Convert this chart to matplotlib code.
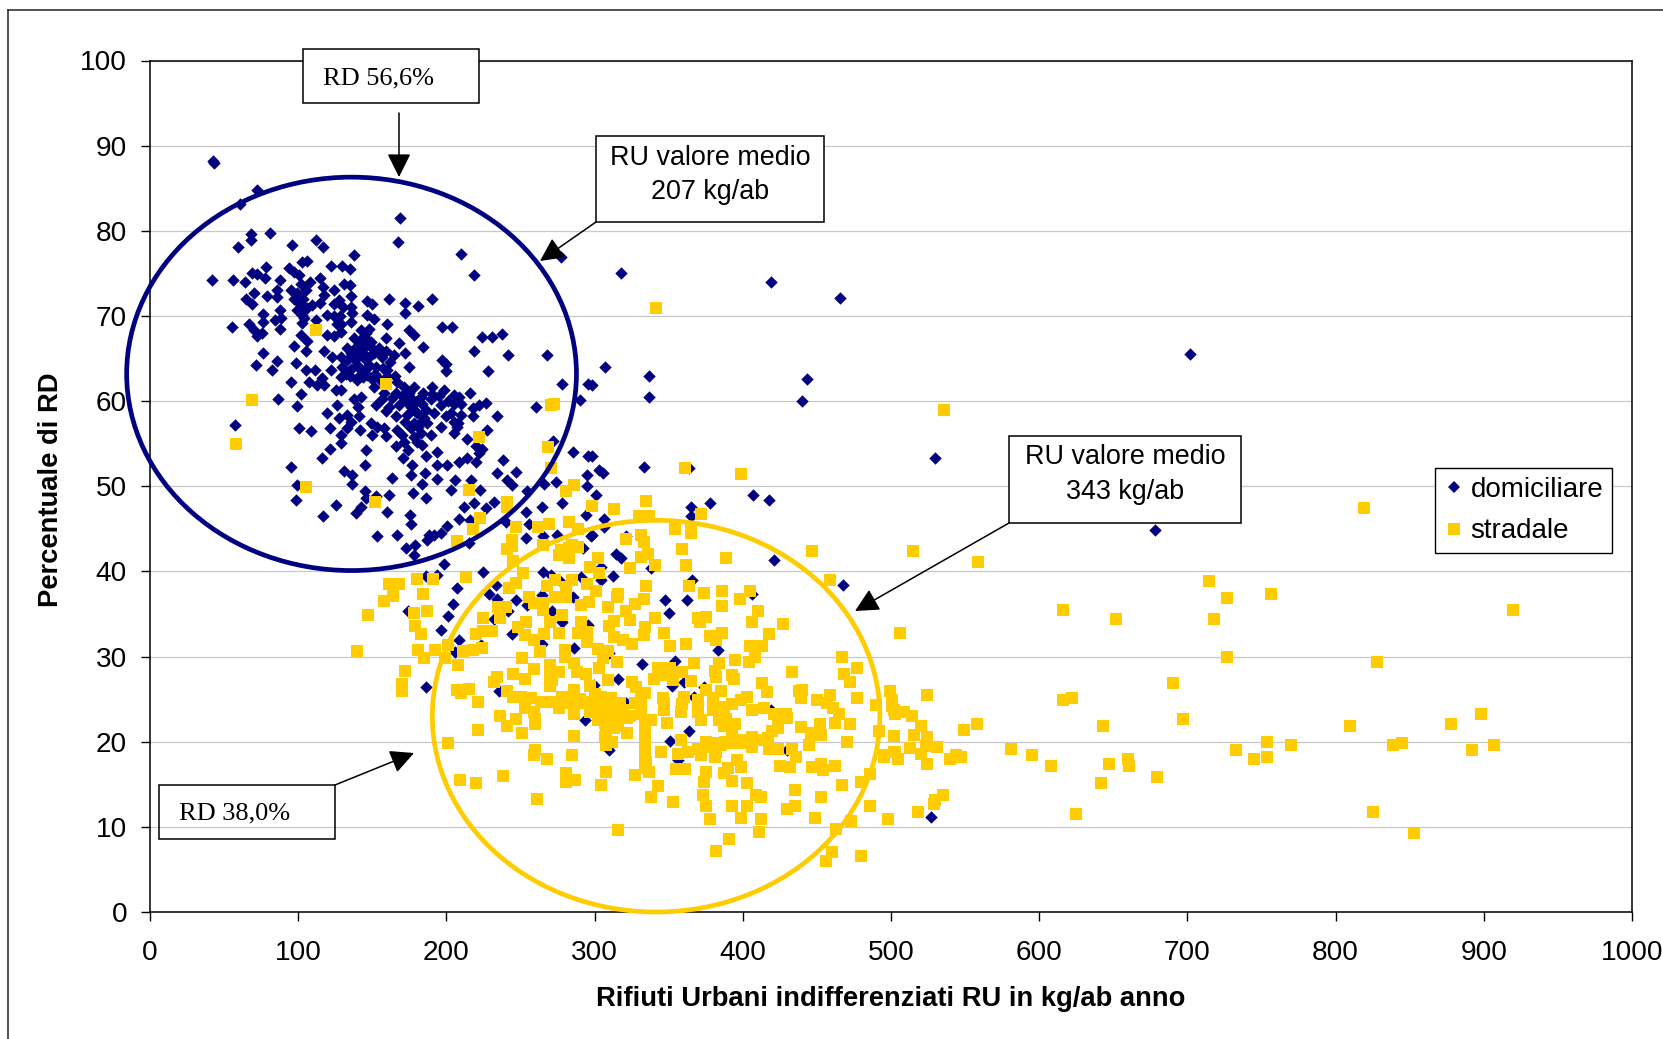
import matplotlib
matplotlib.use('Agg')
import matplotlib.pyplot as plt
from matplotlib.patches import Ellipse, Rectangle, FancyArrowPatch
from matplotlib.lines import Line2D
from matplotlib.transforms import Affine2D

# values: (RU kg/ab anno, % RD)
domiciliare = [
    (42.6,88.2),(43.2,88),(72.4,84.8),(60.4,83.2),(168.4,81.5),(167.3,78.7),(80.7,79.7),(67.9,79.6),(67.9,78.9),(59.5,78.1),
    (95.8,78.3),(112.2,78.9),(116.7,78.1),(137.8,77.1),(210,77.3),(218.6,74.8),(277,76.9),(102.7,76.3),(106,76.4),(93.7,75.6),
    (121.9,75.9),(129.7,75.9),(134.7,75.5),(78.2,75.7),(69,75.1),(71.9,74.9),(97,75.2),(100.5,74.8),(77.3,74.5),(87.7,74.2),
    (114.4,74.5),(42,74.2),(56,74.2),(64,74),(108,74),(101.6,73.8),(130.9,73.8),(134.7,73.6),(116.9,73.4),(124,73),
    (94.9,73),(85.4,73),(99.4,72.7),(70,72.7),(117.3,72.5),(78.7,72.3),(85.8,72.2),(64.5,72),(135.4,72.3),(127.5,71.9),
    (146.6,71.8),(161.5,72),(190.5,72),(171.8,71.5),(150,71.4),(181,71.2),(69,71.4),(100.5,71.5),(115,71.5),(109.5,71.3),
    (124,71.4),(135.4,71.1),(99.4,70.7),(87.7,70.7),(106,70.9),(171.8,70.3),(76.2,70.2),(136.5,70.3),(119.6,70.1),(102.7,70.1),
    (88.1,69.8),(146.6,70.1),(151,69.7),(76.4,69.3),(84.3,69.5),(111.7,69.5),(135.4,69.3),(102.7,69.2),(160,69),(66.7,69),
    (55,68.7),(197,68.7),(203.5,68.7),(88,68.5),(126.4,69),(72.4,67.6),(75.7,68),(70.1,68.3),(101.6,67.8),(119.6,67.8),
    (124.1,67.6),(128.6,68.1),(137.6,67.4),(144.3,67.6),(159,67.4),(178.1,67.8),(174.7,68.3),(147.7,68.5),(142.1,68.3),(128.6,69.1),
    (237.3,67.9),(224.2,67.5),(230.5,67.5),(218.6,65.9),(241.8,65.4),(267.9,65.4),(228.1,63.5),(106.1,67),(133.1,66.2),(146.6,66.6),
    (154.5,66.2),(168,66.8),(184.4,66.3),(76.2,65.7),(97.1,66.5),(105,65.9),(117.4,65.9),(123,65.2),(128.6,65.2),(135.4,65.6),
    (142.1,66),(151.1,65.6),(156.7,65.2),(164.6,65.4),(171.8,65.7),(71.2,64.2),(82.5,63.6),(98.2,64.5),(105,63.7),(111.1,63.7),
    (116.2,62.7),(121.9,63.7),(85.4,64.7),(129.7,64),(135.4,63.8),(142.1,63.7),(152.2,64),(160.1,63.6),(174.7,64),(199.5,63.5),
    (199.5,64.4),(197,64.8),(94.9,62.3),(107.2,62.3),(112.8,61.9),(117.4,61.9),(125.2,61.3),(151.1,61.6),(171.4,61.7),(178.1,61.6),
    (190.5,61.7),(128.6,62.8),(139.9,62.5),(146.6,63.1),(160.1,62.9),(166.9,62.3),(101.6,60.8),(128.6,61.3),(142.1,60.5),(156.7,60.3),
    (137.6,60.3),(182.6,60.5),(189.4,60.3),(198.4,61.3),(205.1,60.7),(208.5,60.5),(215.9,61),(126.4,59.5),(99.4,59.4),(86.5,60.2),
    (57.3,57.2),(140.3,59.3),(152.2,59.5),(161.2,59.3),(175.9,59.3),(183.7,59.7),(196.1,59.5),(205.1,59.7),(209.6,59.7),(148.9,57.4),
    (135.4,57.6),(127.5,58),(119.6,58.6),(133.1,58.4),(141.2,58.2),(153.4,57),(165.7,58.2),(159,58.8),(173.6,58.4),(180.4,58.6),
    (178.1,57.4),(182.6,57.6),(191.6,58.6),(205.1,57.6),(209.6,58.4),(218.2,58.2),(218.2,59.2),(222,59.5),(226.9,59.8),(233.9,58.2),
    (227.6,56.6),(100.5,56.8),(108.8,56.5),(121.4,56.8),(128.6,56),(133.1,56.8),(141.4,56.6),(150,56),(157.8,56.8),(159,55.9),
    (166.9,56.6),(178.1,55.8),(189.4,56),(196.1,57),(205.1,56.2),(207.3,57),(214.1,55.6),(128.6,55.1),(121.4,54.4),(145.5,54.3),
    (165.7,54.7),(171.4,55.2),(174.1,54.3),(183.7,54.8),(193.9,54),(219.7,54.7),(224.2,54.4),(222,53.9),(116.2,53.3),(170.9,53.3),
    (186,53.5),(214.1,53.3),(177,52.5),(145,52.5),(193.9,52.5),(200.6,52.5),(208.5,52.9),(219.7,52.9),(238.4,53.1),(94.9,52.3),
    (130.9,51.8),(136.5,51.3),(163.5,51),(175.9,51.3),(185.3,51.5),(193.9,50.8),(233.9,51.5),(246.7,51.7),(136.5,50.3),(98.9,50.1),
    (183.7,50.3),(205.8,50.7),(216.4,50.7),(241,50.7),(244.5,50.1),(145,49.4),(161.2,49),(177.7,49.2),(202.9,49.6),(223,49.6),
    (254.6,49.5),(98.2,48.4),(145.5,48.6),(152.2,48.8),(186,48.6),(218.6,48),(232.1,48.2),(125.2,47.8),(142.1,47.6),(211.9,47.6),
    (226.5,47.4),(264.3,47.6),(253.5,47),(116.7,46.5),(138.7,46.8),(160.1,47),(175.4,46.6),(208.5,46.2),(215.9,46),(175.9,45.6),
    (240,45.8),(255.7,45.6),(200.6,45.3),(153.4,44.1),(166.9,44.3),(188.2,44.3),(191.6,44.3),(196.1,44.5),(265.4,44.2),(274.9,44.3),
    (297.8,44.2),(187.1,43.7),(253.5,43.9),(215.2,43.3),(178.6,43.1),(172.5,42.7),(178.1,41.9),(278.2,62),(295.8,62),(290.2,60.1),
    (260.7,59.3),(272.2,55.3),(285.4,54),(295.8,53.5),(273.7,50.5),(295.1,51.3),(295.1,50),(303,51.9),(265.9,50.3),(278.2,48),
    (300.7,49),(294,46.6),(150,66.2),(145,65),(138,64.8),(148,64.2),(143,67.2),(147,67),(152,63.2),(139,65.2),(144,62.8),
    (155,62.5),(135,62.9),(158,61),(163,60.4),(170,60.6),(175,60.9),(185,58),(186,59),(178,59),(177,60.2),(181,57),
    (146,68),(149,66.9),(141,66.7),(137,66),(144,65.6),(149,65.4),(133,64.8),(140,64.2),(146,63.8),(150,62.6),(141,63),
    (157,63.9),(132,63.2),(166,61),(172,60.1),(168,59.5),(180,60),(184,61),(174,59.8),(187,57.4),(176,56.8),(172,57.6),
    (183,56.2),(180,55.2),(170,56),(190,60.8),(195,60.6),(201,60),(203,58.6),(200,58.2),(208,57.4),(162,64.6),(165,63),
    (159,65.9),(103,72),(104,71),(97,72),(104,69.8),(105,73),(130,71),(128,70),(124,70),
    (317.8,75),(418.8,74),(465.3,72.1),(702,65.5),(307,64),(443,62.6),(336.4,63),(336.4,60.5),(440.2,60),(298,61.9),
    (530,53.3),(333.6,52.3),(364,52.2),(305.7,51.6),(298,53.5),(407,49),(417.4,48.4),(377.7,48),(364.9,47.6),(364.9,46.5),
    (306.5,46.2),(306.5,45.2),(298,44.3),(321.5,44.1),(292.5,42.7),(314.2,42.1),(317.9,41.6),(337.9,40.4),(304.6,40.5),(421,41.3),
    (198.5,40.9),(186.5,39.5),(193.7,39.6),(225,39.9),(265.5,39.9),(270.8,39.6),(312.3,39.5),(366,39),(467.8,38.4),(207,38),
    (233.5,38.4),(228.6,37.3),(275.7,39),(290.6,39.4),(304.6,39),(264.8,37.2),(285.3,37),(246.7,36.6),(234,36.7),(204.5,36.2),
    (405.9,37.4),(347.3,36.6),(362.5,36.6),(254.5,36),(174.4,35.4),(241.9,35.4),(350.4,35.1),(271.3,35.3),(200.9,34.8),(232.3,34.4),
    (278.1,34),(295.4,33.7),(196.1,33.1),(244.3,32.7),(208.2,31.9),(264.8,31.5),(223.4,31.3),(285.8,31),(383.4,30.8),(205.8,30.5),
    (309.4,30.4),(354,29.5),(332.3,29.1),(315.5,27.4),(186,26.4),(360,27),(352,26.5),(299.3,26.7),(374,26.4),(235.4,26),
    (321.5,24.6),(305.8,23.7),(419,23.7),(293.8,22.5),(363.7,21.2),(351,20.1),(430,19),(309.9,19),(356.4,17.9),(367.3,25.3),
    (678,44.9),(527,11.2),
]

stradale = [
    (112.2,68.4),(159,62),(69,60.1),(58.2,55),(270.4,59.5),(272.6,59.7),(222,55.8),(268.8,54.6),(270.4,52.2),(105,49.9),
    (341.4,70.9),(536,59),(398.7,51.4),(360.8,52.2),
    (286,50.1),(281,49.4),(215,49.6),(152,48.1),(241,48.2),(241,47.6),(298,47.7),(313,47.3),(335,48.3),(330,46.5),
    (337,46.5),(334,46.5),(372,46.7),(223,46.3),(283,45.8),(269,45.6),(247,45.2),(262,45.2),(289,45),(354,45),
    (365,45),(218,45),(365,44.5),(331,44.3),(321,43.8),(333,43.5),(244,43.7),(207,43.6),(241,42.6),(244,43),
    (265,43.1),(285,43.1),(289,42.9),(277,42.5),(283,42.7),(359,42.6),(447,42.4),(336,42),(389,41.6),(331,41.7),
    (302,41.6),(283,41.6),(276,41.9),(245,41.2),(362,40.7),(341,40.7),(297,40.5),(324,40.4),(252,39.8),(303,39.8),
    (180,39.1),(191,39.1),(213,39.4),(273,39),(285,39),(161,38.5),(168,38.5),(459,39),(247,38.6),(295,38.5),
    (268,38.3),(281,38.2),(242,38),(335,38.3),(364,38.3),(301,37.7),(386,37.7),(405,37.7),(316,37.4),(374,37.5),
    (184,37.3),(164,37.1),(256,37),(273,37),(281,37),(315,37),(333,36.8),(398,36.7),(158,36.5),(259,36.3),
    (265,36.3),(296,36.4),(327,36.2),(291,36),(309,35.8),(235,35.8),(240,35.8),(386,35.9),(147,34.9),(187,35.3),
    (178,35.1),(265,35.5),(321,35.3),(410,35.3),(278,34.9),(225,34.5),(236,34.5),(324,34.3),(341,34.5),(370,34.5),
    (375,34.6),(371,34.1),(313,34.2),(254,34.1),(270,34.1),(291,34.1),(406,34.1),(427,33.8),(179,33.6),(310,33.6),
    (334,33.5),(248,33.5),(183,32.6),(220,32.7),(225,33),(231,33),(295,32.9),(289,32.8),(276,32.8),(253,32.5),
    (266,32.6),(333,32.5),(347,32.8),(386,32.8),(418,32.6),(378,32.4),(313,32.3),(506,32.8),(259,32),(319,32),
    (295,31.7),(325,31.5),(382,32),(362,31.5),(201,31.3),(280,30.8),(302,30.9),(351,31.2),(405,31.2),(413,31.2),
    (181,30.8),(192,30.8),(224,31),(218,30.8),(211,30.6),(263,30.6),(309,30.6),(140,30.6),(185,29.8),(199,29.8),
    (251,29.8),(280,30),(306,29.8),(408,30),(395,29.6),(404,29.4),(467,30),(286,29.2),(315,29.4),(208,29),
    (270,29),(367,29.2),(384,29.2),(303,28.6),(343,28.7),(351,28.6),(172,28.3),(259,28.5),(276,28.2),(288,28.2),
    (359,28.2),(381,28.3),(433,28.2),(477,28.6),(468,28),(245,27.9),(270,27.8),(294,28),(347,27.8),(234,27.6),
    (253,27.4),(271,27.3),(340,27.4),(382,27.6),(393,27.8),(394,27.4),(309,27.2),(365,27.1),(353,27.2),(325,27),
    (232,27),(413,26.9),(472,27),(170,26.8),(170,25.9),(270,26.6),(297,26.6),(328,26.4),(215,26.2),(207,26.1),
    (210,25.7),(241,26),(375,26.1),(286,26.1),(440,26.1),(438,25.9),(385,25.9),(416,25.8),(499,25.9),(501,24.9),
    (331,25.7),(245,25.3),(250,25.3),(257,25.1),(278,25.3),(286,25.3),(334,25.7),(346,25.1),(360,25.3),(370,24.9),
    (380,25.1),(403,25.3),(399,24.9),(477,25.1),(439,25.1),(459,25.5),(450,24.9),(311,25.1),(305,24.7),(264,24.7),
    (271,24.7),(283,24.5),(291,24.5),(221,24.7),(317,24.5),(457,24.6),(393,24.4),(359,24.4),(387,24.1),(331,24.5),
    (347,24.6),(490,24.3),(276,24),(286,23.9),(253,23.9),(414,23.9),(461,24),(347,23.7),(319,23.7),(309,23.9),
    (406,23.7),(380,23.7),(358,23.5),(370,23.5),(502,23.7),(297,23.5),(259,23.5),(286,23.3),(331,23.3),(421,23.3),
    (429,23.3),(465,23.3),(236,23),(324,23),(247,22.7),(260,22.7),(302,22.6),(372,22.5),(384,22.6),(389,22.7),
    (424,22.7),(430,22.8),(307,22.2),(338,22.5),(349,22.2),(395,22.1),(452,22.1),(462,22.2),(472,22.1),(260,22.1),
    (241,21.8),(334,22),(313,21.6),(387,21.8),(424,21.6),(221,21.4),(439,21.7),(308,21.2),(251,21),(322,21),
    (334,21.2),(420,21.2),(446,21),(453,20.8),(492,21.3),(286,20.7),(307,20.6),(334,20.4),(393,20.7),(406,20.6),
    (417,20.4),(502,20.7),(358,20.2),(375,20),(388,20),(201,19.8),(312,20),(470,20),(445,19.6),(308,19.6),
    (406,19.4),(400,19.8),(380,19.4),(370,19.2),(418,19.2),(424,19.2),(334,19),(433,19.2),(503,18.8),(495,18.2),
    (260,19),(345,18.8),(356,18.6),(363,18.8),(382,18.8),(372,18.4),(259,18.4),(285,18.4),(334,18.2),(436,18.2),
    (381,18.2),(268,18),(396,17.8),(335,17.6),(425,17.2),(447,17),(453,17.4),(454,16.7),(462,17.2),(432,17),
    (399,17),(355,16.8),(361,16.8),(334,16.9),(390,16.9),(375,16.4),(308,16.5),(337,16.5),(327,16.1),(281,16.3),
    (387,16.3),(486,16.2),(209,15.5),(220,15.2),(238,16),(287,15.5),(281,15.3),(374,15.3),(393,15.4),(403,15.2),
    (480,15.3),(304,14.9),(343,14.8),(467,14.9),(435,14.3),(373,13.7),(409,13.7),(412,13.5),(338,13.5),(453,13.5),
    (261,13.3),(353,12.9),(375,12.5),(393,12.5),(403,12.5),(435,12.4),(430,12.1),(486,12.5),(378,10.9),(399,11),
    (412,10.9),(449,11),(473,10.7),(498,10.9),(316,9.6),(463,9.8),(411,9.4),(391,8.6),(382,7.2),(460,7),
    (456,6),(480,6.6),
    (515,42.4),(559,41.1),(819,47.5),(714.5,38.9),(727,36.9),(756.6,37.3),(616,35.5),(651.5,34.4),(718,34.4),(920,35.5),
    (727,30),(827.6,29.4),(690,26.9),(697,22.7),(616,24.9),(622,25.1),(524,25.5),(500.7,24.2),(502.7,23.2),(509,23.5),
    (514,23),(558,22.1),(549,21.4),(520.5,21.9),(643,21.9),(810,21.9),(878,22.1),(898,23.3),(501.7,20.7),(515.5,20.8),
    (524,20.5),(754,20),(770,19.6),(839,19.6),(845,19.8),(907,19.6),(733,19),(892,19),(581,19.2),(513,19.3),
    (531,19.4),(523.5,19.5),(501.7,18.8),(595,18.4),(520.5,18.6),(495,18.4),(540,18),(544,18.4),(547,18.2),(504.5,18),
    (659.6,18),(745,18),(754,18.2),(647,17.4),(660.6,17.2),(608,17.2),(524,17.4),(679.5,15.8),(642,15.1),(535,13.7),
    (530,13.2),(529,12.7),(518,11.8),(498,10.9),(624.6,11.5),(825,11.8),(853,9.3),
    (290,25),(295,24.7),(300,24.3),(303,23.5),(306,23),(310,22.7),(313,22.3),(316,21.8),(300,25.6),(304,25.3),
    (312,24),(315,23.2),(322,22.8),(327,24.6),(375,19.4),(380,19.9),(385,19.6),(392,19.9),(398,20.2),(412,20.2),
]

dom_x = [p[0] for p in domiciliare]
dom_y = [p[1] for p in domiciliare]
str_x = [p[0] for p in stradale]
str_y = [p[1] for p in stradale]

blue = '#000080'
yellow = '#FFCC00'
W, H = 1663, 1039

plt.rcParams['font.family'] = ['Liberation Sans', 'DejaVu Sans']

fig = plt.figure(figsize=(W / 100, H / 100), dpi=100)
ax = fig.add_axes([150 / W, 1 - 912 / H, (1632 - 150) / W, (912 - 60.5) / H])

ax.scatter(dom_x, dom_y, marker='D', s=40, color=blue, linewidths=0, zorder=3, clip_on=False)
ax.scatter(str_x, str_y, marker='s', s=74, color=yellow, linewidths=0, zorder=4, clip_on=False)

# the two circles
ax.add_patch(Ellipse((136, 63.2), 303.5, 46.2, fill=False, edgecolor=blue, lw=3.4, zorder=5, clip_on=False))
ax.add_patch(Ellipse((341.5, 23), 302, 46, fill=False, edgecolor=yellow, lw=3.4, zorder=5, clip_on=False))

ax.set_xlim(0, 1000)
ax.set_ylim(0, 100)
ax.set_xticks(range(0, 1001, 100))
ax.set_yticks(range(0, 101, 10))
ax.tick_params(length=6.5, width=1, labelsize=20.2, color='black')
ax.tick_params(axis='x', pad=14)
ax.tick_params(axis='y', pad=10)
ax.grid(True, axis='y', color='#c8c8c8', lw=0.9)
ax.set_axisbelow(True)
for s in ax.spines.values():
    s.set_linewidth(1.1)
    s.set_color('black')

ax.set_xlabel('Rifiuti Urbani indifferenziati RU in kg/ab anno', fontsize=19.7, fontweight='bold', labelpad=14)
ax.set_ylabel('Percentuale di RD', fontsize=19.7, fontweight='bold', labelpad=12, y=0.496)

handles = [
    Line2D([], [], marker='D', linestyle='none', color=blue, markersize=6.1, markeredgewidth=0, label='domiciliare'),
    Line2D([], [], marker='s', linestyle='none', color=yellow, markersize=8.6, markeredgewidth=0, label='stradale'),
]
leg = ax.legend(handles=handles, loc='upper left', bbox_to_anchor=(1435 / W, 1 - 468 / H),
                bbox_transform=fig.transFigure, fontsize=20, frameon=True, fancybox=False,
                framealpha=1, edgecolor='black', borderaxespad=0, handletextpad=0.2,
                handlelength=0.76, labelspacing=0.56, borderpad=0.32)
leg.get_frame().set_linewidth(1.0)
leg.set_zorder(6)

# callouts are placed in image pixels, y going down
px = Affine2D().scale(1 / W, -1 / H).translate(0, 1) + fig.transFigure


def box(x0, y0, x1, y1, fill='white'):
    fig.add_artist(Rectangle((x0, y0), x1 - x0, y1 - y0, transform=px, facecolor=fill,
                             edgecolor='black', lw=1.1, zorder=2))


def arrow(x0, y0, x1, y1):
    fig.add_artist(FancyArrowPatch((x0, y0), (x1, y1), transform=px, shrinkA=0, shrinkB=0,
                                   arrowstyle='-|>,head_length=1,head_width=0.5', mutation_scale=14.5,
                                   color='black', lw=1.1, zorder=2))


def label(x, y, txt, **kw):
    fig.text(x, y, txt, transform=px, zorder=3, color='black', **kw)


box(303, 49, 479, 103)
label(323, 78, 'RD 56,6%', family='Liberation Serif', fontsize=19, va='center', ha='left')
arrow(399, 113, 399, 177)

box(159, 785, 335, 839, fill='none')
label(179, 813, 'RD 38,0%', family='Liberation Serif', fontsize=19, va='center', ha='left')
arrow(335, 785, 414, 753)

box(596, 136, 824, 222)
label(710, 158, 'RU valore medio', fontsize=19.4, va='center', ha='center')
label(710, 192, '207 kg/ab', fontsize=19.4, va='center', ha='center')
arrow(596, 222, 540, 261)

box(1009, 436, 1241, 523)
label(1125, 457, 'RU valore medio', fontsize=19.4, va='center', ha='center')
label(1125, 492, '343 kg/ab', fontsize=19.4, va='center', ha='center')
arrow(1009, 523, 855, 611)

# outer frame, only top and left show in the image
fig.add_artist(Line2D([8, 8], [10, H], transform=px, color='#222222', lw=1.1))
fig.add_artist(Line2D([8, W], [10, 10], transform=px, color='#222222', lw=1.1))

fig.savefig('out.png', dpi=100)
